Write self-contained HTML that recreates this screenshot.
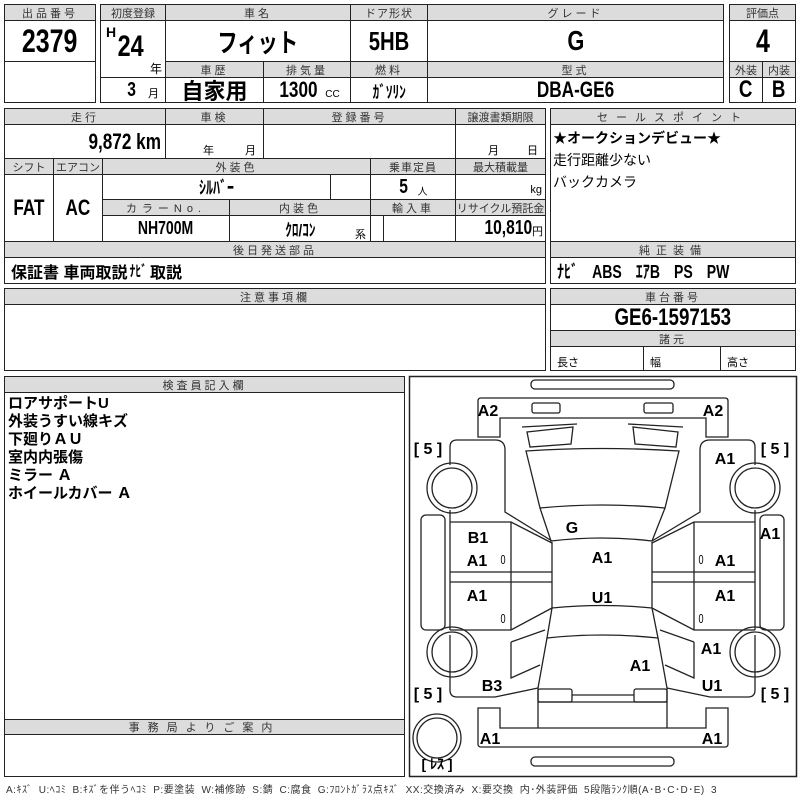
<!DOCTYPE html>
<html><head><meta charset="utf-8"><style>
body{margin:0;background:#fff;}
#p{position:relative;width:800px;height:800px;overflow:hidden;font-family:"Liberation Sans","Noto Sans CJK JP",sans-serif;color:#000;}
.c{position:absolute;box-sizing:border-box;border:1px solid #222;display:flex;align-items:center;justify-content:center;white-space:nowrap;}
.h{background:#dcdcdc;font-size:11px;color:#333;letter-spacing:3px;}
.v{font-weight:bold;font-size:20px;}
.n{display:inline-block;transform:scaleX(0.78);font-weight:bold;}
.t{position:absolute;white-space:nowrap;}
</style></head><body><div id="p">
<!-- block 1 -->
<div class="c h" style="left:4px;top:4px;width:92px;height:17px">出品番号</div>
<div class="c" style="left:4px;top:20px;width:92px;height:42px"><span class="n" style="font-size:32px">2379</span></div>
<div class="c" style="left:4px;top:61px;width:92px;height:42px"></div>

<div class="c h" style="left:100px;top:4px;width:66px;height:17px;letter-spacing:0">初度登録</div>
<div class="c h" style="left:165px;top:4px;width:186px;height:17px">車名</div>
<div class="c h" style="left:350px;top:4px;width:78px;height:17px;letter-spacing:1px">ドア形状</div>
<div class="c h" style="left:427px;top:4px;width:297px;height:17px">グレード</div>
<div class="c" style="left:100px;top:20px;width:66px;height:58px"></div>
<div class="t" style="left:106px;top:24px;font-weight:bold;font-size:14px">H</div>
<div class="t" style="left:114px;top:30px"><span class="n" style="font-size:30px">24</span></div>
<div class="t" style="left:150px;top:60px;font-size:12px">年</div>
<div class="c" style="left:100px;top:77px;width:66px;height:26px"></div>
<div class="t" style="left:126px;top:79px"><span class="n" style="font-size:20px">3</span></div>
<div class="t" style="left:148px;top:85px;font-size:11px">月</div>
<div class="c" style="left:165px;top:20px;width:186px;height:42px"><span class="n" style="font-size:26px">フィット</span></div>
<div class="c" style="left:350px;top:20px;width:78px;height:42px"><span class="n" style="font-size:26px">5HB</span></div>
<div class="c" style="left:427px;top:20px;width:297px;height:42px"><span class="n" style="font-size:28px">G</span></div>
<div class="c h" style="left:165px;top:61px;width:99px;height:17px">車歴</div>
<div class="c h" style="left:263px;top:61px;width:88px;height:17px">排気量</div>
<div class="c h" style="left:350px;top:61px;width:78px;height:17px">燃料</div>
<div class="c h" style="left:427px;top:61px;width:297px;height:17px">型式</div>
<div class="c" style="left:165px;top:77px;width:99px;height:26px;font-weight:bold;font-size:22px">自家用</div>
<div class="c" style="left:263px;top:77px;width:88px;height:26px"><span class="n" style="font-size:22px">1300</span><span style="font-size:10px;margin-left:2px;margin-top:8px">CC</span></div>
<div class="c" style="left:350px;top:77px;width:78px;height:26px"><span class="n" style="font-size:17px">ｶﾞｿﾘﾝ</span></div>
<div class="c" style="left:427px;top:77px;width:297px;height:26px"><span class="n" style="font-size:22px">DBA-GE6</span></div>

<div class="c h" style="left:729px;top:4px;width:67px;height:17px;letter-spacing:0">評価点</div>
<div class="c" style="left:729px;top:20px;width:67px;height:42px"><span class="n" style="font-size:32px">4</span></div>
<div class="c h" style="left:729px;top:61px;width:34px;height:17px;letter-spacing:0">外装</div>
<div class="c h" style="left:762px;top:61px;width:34px;height:17px;letter-spacing:0">内装</div>
<div class="c" style="left:729px;top:77px;width:34px;height:26px"><span class="n" style="font-size:24px">C</span></div>
<div class="c" style="left:762px;top:77px;width:34px;height:26px"><span class="n" style="font-size:24px">B</span></div>

<!-- block 2 -->
<div class="c h" style="left:4px;top:108px;width:162px;height:17px">走行</div>
<div class="c h" style="left:165px;top:108px;width:99px;height:17px">車検</div>
<div class="c h" style="left:263px;top:108px;width:193px;height:17px">登録番号</div>
<div class="c h" style="left:455px;top:108px;width:91px;height:17px;letter-spacing:0">譲渡書類期限</div>
<div class="c" style="left:4px;top:124px;width:162px;height:35px;justify-content:flex-end;padding-right:4px"><span class="n" style="font-size:22px;transform-origin:right">9,872 km</span></div>
<div class="c" style="left:165px;top:124px;width:99px;height:35px"></div>
<div class="t" style="left:203px;top:142px;font-size:11px">年</div><div class="t" style="left:245px;top:142px;font-size:11px">月</div>
<div class="c" style="left:263px;top:124px;width:193px;height:35px"></div>
<div class="c" style="left:455px;top:124px;width:91px;height:35px"></div>
<div class="t" style="left:488px;top:142px;font-size:11px">月</div><div class="t" style="left:527px;top:142px;font-size:11px">日</div>

<div class="c h" style="left:4px;top:158px;width:50px;height:17px;letter-spacing:0">シフト</div>
<div class="c h" style="left:53px;top:158px;width:50px;height:17px;letter-spacing:0">エアコン</div>
<div class="c h" style="left:102px;top:158px;width:269px;height:17px">外装色</div>
<div class="c h" style="left:370px;top:158px;width:86px;height:17px;letter-spacing:1px">乗車定員</div>
<div class="c h" style="left:455px;top:158px;width:91px;height:17px;letter-spacing:0">最大積載量</div>
<div class="c" style="left:4px;top:174px;width:50px;height:68px"><span class="n" style="font-size:22px">FAT</span></div>
<div class="c" style="left:53px;top:174px;width:50px;height:68px"><span class="n" style="font-size:22px">AC</span></div>
<div class="c" style="left:102px;top:174px;width:229px;height:26px"><span class="n" style="font-size:18px">ｼﾙﾊﾞｰ</span></div>
<div class="c" style="left:330px;top:174px;width:41px;height:26px"></div>
<div class="c" style="left:370px;top:174px;width:86px;height:26px"><span class="n" style="font-size:20px">5</span><span style="font-size:10px;margin-left:8px;margin-top:6px">人</span></div>
<div class="c" style="left:455px;top:174px;width:91px;height:26px;justify-content:flex-end;padding-right:3px;font-size:11px;padding-top:6px">kg</div>
<div class="c h" style="left:102px;top:199px;width:128px;height:17px;letter-spacing:5px">カラーNo.</div>
<div class="c h" style="left:229px;top:199px;width:142px;height:17px">内装色</div>
<div class="c h" style="left:370px;top:199px;width:86px;height:17px">輸入車</div>
<div class="c h" style="left:455px;top:199px;width:91px;height:17px;letter-spacing:0">リサイクル預託金</div>
<div class="c" style="left:102px;top:215px;width:128px;height:27px"><span class="n" style="font-size:18px">NH700M</span></div>
<div class="c" style="left:229px;top:215px;width:142px;height:27px"><span class="n" style="font-size:17px">ｸﾛ/ｺﾝ</span></div>
<div class="t" style="left:355px;top:226px;font-size:11px">系</div>
<div class="c" style="left:370px;top:215px;width:14px;height:27px"></div>
<div class="c" style="left:383px;top:215px;width:73px;height:27px"></div>
<div class="c" style="left:455px;top:215px;width:91px;height:27px;justify-content:flex-end;padding-right:2px"><span class="n" style="font-size:20px;transform-origin:right">10,810</span><span style="font-size:11px;margin-top:5px">円</span></div>
<div class="c h" style="left:4px;top:241px;width:542px;height:17px">後日発送部品</div>
<div class="c" style="left:4px;top:257px;width:542px;height:27px;justify-content:flex-start;padding-left:6px;font-weight:bold;font-size:16px">保証書 車両取説 <span class="n" style="font-size:15px">ﾅﾋﾞ</span>取説</div>

<div class="c h" style="left:550px;top:108px;width:246px;height:17px;letter-spacing:8px">セールスポイント</div>
<div class="c" style="left:550px;top:124px;width:246px;height:118px;display:block;padding:2px 0 0 2px;font-size:14px;font-weight:bold;line-height:22px">★オークションデビュー★<br><span style="font-weight:normal">走行距離少ない<br>バックカメラ</span></div>
<div class="c h" style="left:550px;top:241px;width:246px;height:17px;letter-spacing:6px">純正装備</div>
<div class="c" style="left:550px;top:257px;width:246px;height:27px;justify-content:flex-start;padding-left:6px"><span class="n" style="font-size:18px;transform-origin:left">ﾅﾋﾞ　ABS　ｴｱB　PS　PW</span></div>

<!-- block 3 -->
<div class="c h" style="left:4px;top:288px;width:542px;height:17px">注意事項欄</div>
<div class="c" style="left:4px;top:304px;width:542px;height:67px"></div>
<div class="c h" style="left:550px;top:288px;width:246px;height:17px">車台番号</div>
<div class="c" style="left:550px;top:304px;width:246px;height:27px"><span class="n" style="font-size:24px">GE6-1597153</span></div>
<div class="c h" style="left:550px;top:330px;width:246px;height:17px">諸元</div>
<div class="c" style="left:550px;top:346px;width:94px;height:25px;justify-content:flex-start;padding:6px 0 0 6px;font-size:11px">長さ</div>
<div class="c" style="left:643px;top:346px;width:78px;height:25px;justify-content:flex-start;padding:6px 0 0 6px;font-size:11px">幅</div>
<div class="c" style="left:720px;top:346px;width:76px;height:25px;justify-content:flex-start;padding:6px 0 0 6px;font-size:11px">高さ</div>

<!-- block 4 -->
<div class="c" style="left:4px;top:376px;width:401px;height:401px"></div>
<div class="c h" style="left:4px;top:376px;width:401px;height:17px">検査員記入欄</div>
<div class="t" style="left:8px;top:395px;font-size:15px;font-weight:bold;line-height:18px">ロアサポートU<br>外装うすい線キズ<br>下廻りＡＵ<br>室内内張傷<br>ミラー Ａ<br>ホイールカバー Ａ</div>
<div class="c h" style="left:4px;top:719px;width:401px;height:16px;letter-spacing:8px">事務局よりご案内</div>
<div class="t" style="left:6px;top:781px;font-size:10px;letter-spacing:0.5px;word-spacing:3px;color:#333">A:ｷｽﾞ U:ﾍｺﾐ B:ｷｽﾞを伴うﾍｺﾐ P:要塗装 W:補修跡 S:錆 C:腐食 G:ﾌﾛﾝﾄｶﾞﾗｽ点ｷｽﾞ XX:交換済み X:要交換 内･外装評価 5段階ﾗﾝｸ順(A･B･C･D･E) 3</div>

<svg style="position:absolute;left:0;top:0" width="800" height="800" fill="none" stroke="#222" stroke-width="1.3">
<rect x="409.5" y="376.5" width="387" height="400" stroke-width="1.5"/>
<rect x="531" y="380" width="143" height="9" rx="4"/>
<rect x="531" y="757" width="143" height="9" rx="4"/>
<path d="M478,437 V401 Q478,398 481,398 H725 Q728,398 728,401 V437 H706 V418 H500 V437 Z"/>
<rect x="532" y="403" width="28" height="10" rx="2"/>
<rect x="644" y="403" width="29" height="10" rx="2"/>
<path d="M478,708 V744 Q478,747 481,747 H725 Q728,747 728,744 V708 H706 V728 H500 V708 Z"/>
<path d="M522,427 L577,424 M527,432 L573,427 L571,444 L530,447 Z"/>
<path d="M683,427 L628,424 M678,432 L633,427 L635,444 L676,447 Z"/>
<path d="M526,451 Q602,446 679,451 L665,508 Q602,502 540,508 Z"/>
<path d="M540,508 L551,541 Q602,535 652,541 L665,508"/>
<path d="M552,542 V608 M652,542 V608 M552,608 Q602,603 652,608"/>
<path d="M450,465 V447 Q450,440 457,440 H495 Q505,440 505,450 V512 L552,541"/>
<path d="M450,510 V522"/>
<path d="M755,465 V447 Q755,440 748,440 H710 Q700,440 700,450 V512 L652,541"/>
<path d="M755,510 V522"/>
<path d="M450,522 H511 L552,543 M450,572 H552 M450,582 H552 M450,630 H511 L552,608 M511,522 V630 M450,522 V630"/>
<path d="M755,522 H694 L652,543 M755,572 H652 M755,582 H652 M755,630 H694 L652,608 M694,522 V630 M755,522 V630"/>
<rect x="421" y="515" width="24" height="115" rx="5"/>
<rect x="760" y="515" width="24" height="115" rx="5"/>
<path d="M552,608 L547,638 Q602,632 658,638 L652,608"/>
<path d="M547,638 L538,688 V702 H667 V688 L658,638"/>
<rect x="538" y="689" width="34" height="13" rx="2"/>
<rect x="634" y="689" width="33" height="13" rx="2"/>
<path d="M572,695 H634 M538,702 V728 M667,702 V728"/>
<path d="M450,635 V690 Q450,697 457,697 H495 L538,688"/>
<path d="M511,642 L545,630 M511,642 V678 L540,665"/>
<path d="M755,635 V690 Q755,697 748,697 H710 L667,688"/>
<path d="M694,642 L660,630 M694,642 V678 L665,665"/>
<g><circle cx="452" cy="488" r="25"/><circle cx="452" cy="488" r="20"/>
<circle cx="452" cy="652" r="25"/><circle cx="452" cy="652" r="20"/>
<circle cx="755" cy="488" r="25"/><circle cx="755" cy="488" r="20"/>
<circle cx="755" cy="652" r="25"/><circle cx="755" cy="652" r="20"/>
<circle cx="437" cy="738" r="24"/><circle cx="437" cy="738" r="20"/></g>
<g fill="#000" stroke="none" font-family="Liberation Sans, sans-serif" font-weight="bold" font-size="16" text-anchor="middle">
<text x="488" y="416">A2</text><text x="713" y="416">A2</text>
<text x="725" y="464">A1</text><text x="572" y="533">G</text>
<text x="478" y="543">B1</text><text x="477" y="566">A1</text>
<text x="602" y="563">A1</text><text x="770" y="539">A1</text>
<text x="725" y="566">A1</text>
<text x="477" y="601">A1</text><text x="602" y="603">U1</text><text x="725" y="601">A1</text>
<text x="711" y="654">A1</text><text x="640" y="671">A1</text>
<text x="492" y="691">B3</text><text x="712" y="691">U1</text>
<text x="490" y="744">A1</text><text x="712" y="744">A1</text>
<text x="428" y="454">[ 5 ]</text><text x="775" y="454">[ 5 ]</text>
<text x="428" y="699">[ 5 ]</text><text x="775" y="699">[ 5 ]</text>
<text x="437" y="769" font-size="14">[ ﾚｽ ]</text>
</g>
<g fill="#000" stroke="none" font-family="Liberation Sans, sans-serif" font-size="13" text-anchor="middle">
<text x="503" y="564" transform="translate(503 0) scale(0.7 1) translate(-503 0)">0</text>
<text x="701" y="564" transform="translate(701 0) scale(0.7 1) translate(-701 0)">0</text>
<text x="503" y="623" transform="translate(503 0) scale(0.7 1) translate(-503 0)">0</text>
<text x="701" y="623" transform="translate(701 0) scale(0.7 1) translate(-701 0)">0</text>
</g>
</svg>
</div></body></html>
